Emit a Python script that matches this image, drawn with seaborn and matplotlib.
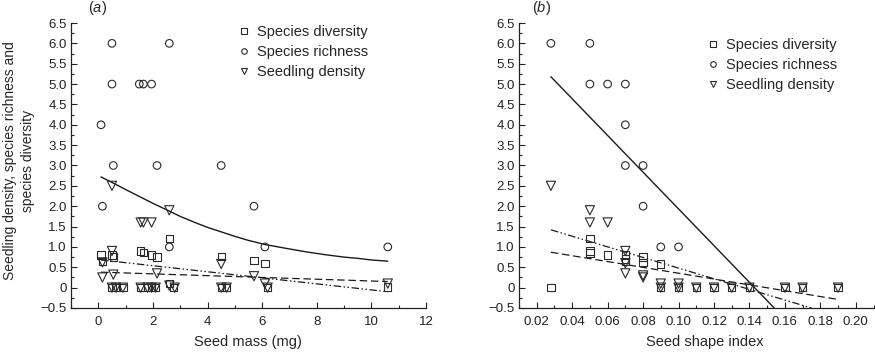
import numpy as np
import pandas as pd
import matplotlib
matplotlib.use("Agg")
import matplotlib.pyplot as plt
from matplotlib.ticker import MultipleLocator, FuncFormatter
from matplotlib.lines import Line2D
import seaborn as sns

# ---------------- data: panel (a) seed mass ----------------
a_div_x = [0.1, 0.15, 0.5, 0.55, 0.5, 0.65, 0.9, 1.55, 1.65, 1.95, 2.15, 1.55, 1.8, 1.95, 2.1,
           2.6, 2.6, 2.75, 4.5, 4.5, 4.7, 5.7, 6.1, 6.2, 10.6]
a_div_y = [0.8, 0.65, 0.8, 0.75, 0, 0, 0, 0.9, 0.87, 0.8, 0.75, 0, 0, 0, 0,
           1.2, 0.1, 0, 0.77, 0, 0, 0.66, 0.6, 0, 0.02]
a_rich_x = [0.1, 0.15, 0.5, 0.5, 0.55, 1.5, 1.65, 1.95, 2.15, 2.6, 2.6, 4.5, 5.7, 6.1, 10.6]
a_rich_y = [4, 2, 6, 5, 3, 5, 5, 5, 3, 6, 1, 3, 2, 1, 1]
a_dens_x = [0.5, 2.6, 1.55, 1.65, 1.95, 0.5, 0.15, 0.15, 0.55, 2.15, 0.5, 0.65, 0.9, 1.55, 1.8,
            1.95, 2.1, 2.6, 2.8, 4.5, 4.5, 4.7, 5.7, 6.1, 6.2, 10.6]
a_dens_y = [2.5, 1.9, 1.6, 1.6, 1.6, 0.9, 0.62, 0.25, 0.32, 0.35, 0, 0, 0, 0, 0,
            0, 0, 0.05, 0, 0.58, 0, 0, 0.28, 0.1, 0, 0.1]
# trend lines
a_rich_fit_x = [0.1, 0.6, 1.0, 1.5, 2.0, 2.6, 3.0, 3.5, 4.0, 4.5, 5.0, 5.5, 6.1, 7.0, 7.6,
                8.3, 9.0, 9.5, 10.0, 10.6]
a_rich_fit_y = [2.72, 2.55, 2.41, 2.24, 2.07, 1.88, 1.75, 1.61, 1.48, 1.37, 1.26, 1.16, 1.06,
                0.95, 0.88, 0.81, 0.75, 0.72, 0.68, 0.65]
a_div_fit_x = [0.1, 10.6]
a_div_fit_y = [0.38, 0.15]
a_dens_fit_x = [0.1, 10.6]
a_dens_fit_y = [0.68, -0.1]

# ---------------- data: panel (b) seed shape index ----------------
b_rich_x = [0.028, 0.05, 0.05, 0.06, 0.07, 0.07, 0.07, 0.08, 0.08, 0.09, 0.10]
b_rich_y = [6, 6, 5, 5, 5, 4, 3, 3, 2, 1, 1]
b_div_x = [0.028, 0.05, 0.05, 0.05, 0.06, 0.07, 0.07, 0.07, 0.08, 0.08, 0.09, 0.09, 0.10,
           0.11, 0.12, 0.13, 0.14, 0.16, 0.17, 0.19]
b_div_y = [0, 1.2, 0.9, 0.85, 0.8, 0.8, 0.7, 0.65, 0.75, 0.62, 0.58, 0, 0,
           0, 0, 0, 0, 0, 0, 0]
b_dens_x = [0.028, 0.05, 0.05, 0.06, 0.07, 0.07, 0.07, 0.08, 0.08, 0.09, 0.09, 0.10, 0.10,
            0.11, 0.12, 0.13, 0.14, 0.16, 0.17, 0.19]
b_dens_y = [2.5, 1.9, 1.6, 1.6, 0.9, 0.6, 0.35, 0.3, 0.25, 0.1, 0, 0.1, 0,
            0, 0, 0, 0, 0, 0, 0]
b_rich_fit_x = [0.028, 0.154]
b_rich_fit_y = [5.18, -0.5]
b_div_fit_x = [0.028, 0.19]
b_div_fit_y = [0.87, -0.29]
b_dens_fit_x = [0.028, 0.175]
b_dens_fit_y = [1.42, -0.5]

series_names = ["Species diversity", "Species richness", "Seedling density"]
y_label = "Seedling density, species richness and\nspecies diversity"

# ---------------- style ----------------
sns.set_style("ticks")
plt.rcParams["font.family"] = ["Liberation Sans", "DejaVu Sans"]
plt.rcParams["mathtext.fontset"] = "custom"
plt.rcParams["mathtext.it"] = "Liberation Sans:italic"
plt.rcParams["mathtext.rm"] = "Liberation Sans"

W, H = 875, 352
fig = plt.figure(figsize=(W / 100, H / 100), dpi=100)

def px_axes(l, r, t, b):
    return [l / W, 1 - b / H, (r - l) / W, (b - t) / H]

ax_a = fig.add_axes(px_axes(71, 426, 23, 308))
ax_b = fig.add_axes(px_axes(519, 873.5, 23, 308))

mk_edge = "#2a2a2a"
line_col = "#1a1a1a"
dashdot = (0, (6, 2, 1.2, 2, 1.2, 2))
dashed = (0, (6, 3))

def draw(ax, div, rich, dens, fits):
    sns.scatterplot(x=div[0], y=div[1], ax=ax, marker="s", s=28, facecolor="none",
                    edgecolor=mk_edge, linewidth=0.8, zorder=3)
    sns.scatterplot(x=rich[0], y=rich[1], ax=ax, marker="o", s=30, facecolor="none",
                    edgecolor=mk_edge, linewidth=0.8, zorder=3)
    sns.scatterplot(x=dens[0], y=dens[1], ax=ax, marker="v", s=44, facecolor="none",
                    edgecolor=mk_edge, linewidth=0.8, zorder=3)
    (rx, ry), (dx, dy), (sx, sy) = fits
    sns.lineplot(x=rx, y=ry, ax=ax, color=line_col, lw=1.0, sort=False, estimator=None)
    sns.lineplot(x=dx, y=dy, ax=ax, color=line_col, lw=0.9, linestyle=dashed, sort=False, estimator=None)
    sns.lineplot(x=sx, y=sy, ax=ax, color=line_col, lw=0.9, linestyle=dashdot, sort=False, estimator=None)

draw(ax_a, (a_div_x, a_div_y), (a_rich_x, a_rich_y), (a_dens_x, a_dens_y),
     [(a_rich_fit_x, a_rich_fit_y), (a_div_fit_x, a_div_fit_y), (a_dens_fit_x, a_dens_fit_y)])
draw(ax_b, (b_div_x, b_div_y), (b_rich_x, b_rich_y), (b_dens_x, b_dens_y),
     [(b_rich_fit_x, b_rich_fit_y), (b_div_fit_x, b_div_fit_y), (b_dens_fit_x, b_dens_fit_y)])

def yfmt(v, _):
    if abs(v) < 1e-9:
        return "0"
    return f"{v:.1f}".replace("-", "\u2212")

for ax in (ax_a, ax_b):
    ax.set_ylim(-0.5, 6.5)
    ax.yaxis.set_major_locator(MultipleLocator(0.5))
    ax.yaxis.set_minor_locator(MultipleLocator(0.25))
    ax.yaxis.set_major_formatter(FuncFormatter(yfmt))
    sns.despine(ax=ax)
    ax.tick_params(which="both", direction="in", colors="#222222", width=0.8)
    ax.tick_params(which="major", length=4, labelsize=9.5, pad=3)
    ax.tick_params(which="minor", length=2)
    ax.tick_params(axis="x", which="major", pad=6)
    for sp in ("left", "bottom"):
        ax.spines[sp].set_linewidth(0.9)
        ax.spines[sp].set_color("#222222")
    ax.set_ylabel("")

ax_a.set_xlim(-1, 12)
ax_a.xaxis.set_major_locator(MultipleLocator(2))
ax_a.xaxis.set_minor_locator(MultipleLocator(1))
ax_a.xaxis.set_major_formatter(FuncFormatter(lambda v, _: f"{v:.0f}"))
ax_b.set_xlim(0.01, 0.21)
ax_b.xaxis.set_major_locator(MultipleLocator(0.02))
ax_b.xaxis.set_minor_locator(MultipleLocator(0.01))
ax_b.xaxis.set_major_formatter(FuncFormatter(lambda v, _: f"{v:.2f}"))

ax_a.set_xlabel("Seed mass (mg)", fontsize=10.5)
ax_b.set_xlabel("Seed shape index", fontsize=10.5)
ax_a.xaxis.set_label_coords(0.4986, -0.095)
ax_b.xaxis.set_label_coords((705 - 519) / 354.5, -0.095)

# legends
handles = [
    Line2D([], [], ls="none", marker="s", ms=4, mfc="none", mec=mk_edge, mew=0.8),
    Line2D([], [], ls="none", marker="o", ms=4, mfc="none", mec=mk_edge, mew=0.8),
    Line2D([], [], ls="none", marker="v", ms=5, mfc="none", mec=mk_edge, mew=0.8),
]
for ax, anchor in ((ax_a, (0.4716, 0.993)), (ax_b, (0.531, 0.947))):
    ax.legend(handles, series_names, loc="upper left", bbox_to_anchor=anchor,
              frameon=False, fontsize=10.5, handlelength=0.8, handletextpad=0.5,
              borderpad=0, borderaxespad=0, labelspacing=0.42)

fig.text(97 / W, 1 - 8 / H, r"($\mathit{a}$)", fontsize=10.5, ha="center", va="center")
fig.text(541 / W, 1 - 8 / H, r"($\mathit{b}$)", fontsize=10.5, ha="center", va="center")
fig.text(19 / W, 1 - 161 / H, y_label, rotation=90, fontsize=10, ha="center", va="center",
         multialignment="center", linespacing=1.3)

fig.savefig("out.png", dpi=100)
